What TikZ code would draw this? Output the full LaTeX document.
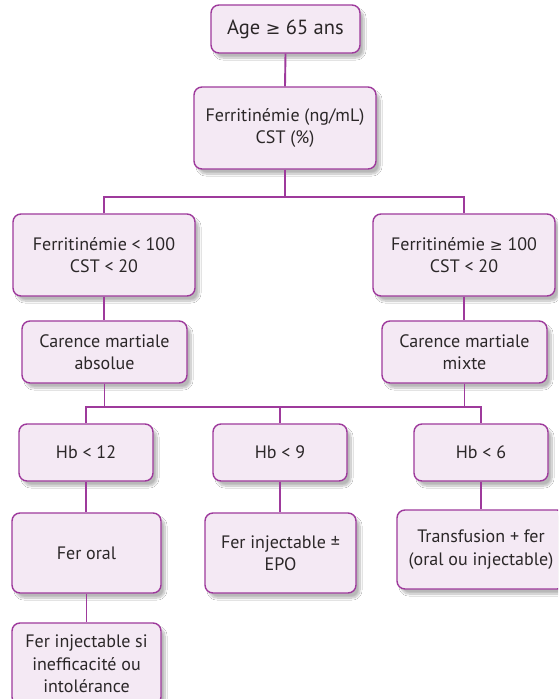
\documentclass[tikz,border=0pt]{standalone}
\usepackage{fontspec}
\setmainfont{PT Sans}
\newfontfamily\symfont{DejaVu Sans}
\usetikzlibrary{shadows.blur}
\definecolor{boxfill}{HTML}{F4E9F4}
\definecolor{boxline}{HTML}{9E3A9C}
\definecolor{txt}{HTML}{2B2728}
\newcommand{\gesym}{{\symfont\fontsize{0.85\dimexpr\csname f@size\endcsname pt\relax}{1em}\selectfont ≥}}
\begin{document}
\begin{tikzpicture}[x=1pt,y=-1pt,
  card/.style={draw=boxline, line width=1.4pt, fill=boxfill, rounded corners=8pt,
    align=center, text=txt, inner sep=0pt,
    font=\fontsize{18}{22.5}\selectfont,
    blur shadow={shadow xshift=4pt, shadow yshift=-5pt, shadow blur steps=12, shadow opacity=28}},
  link/.style={draw=boxline, line width=1.9pt}]
\clip (0,0) rectangle (558,699);
\fill[white] (0,0) rectangle (558,699);

% top of the tree
\node[card, minimum width=149pt, minimum height=48pt, font=\fontsize{20.5}{24}\selectfont] (age) at (285.5,29) {Age \gesym\ 65 ans};
\node[card, minimum width=182pt, minimum height=82pt] (ferr) at (285,128) {Ferritinémie (ng/mL)\\CST (\%)};

% two diagnostic branches
\node[card, minimum width=182pt, minimum height=82pt] (low) at (104,255) {Ferritinémie < 100\\CST < 20};
\node[card, minimum width=182pt, minimum height=82pt] (high) at (464,255) {Ferritinémie \gesym\ 100\\CST < 20};
\node[card, minimum width=165pt, minimum height=62pt] (abs) at (104.5,352) {Carence martiale\\absolue};
\node[card, minimum width=165pt, minimum height=62pt] (mix) at (464.5,352) {Carence martiale\\mixte};

% haemoglobin levels
\node[card, minimum width=134pt, minimum height=57pt] (hbA) at (86,452.5) {Hb < 12};
\node[card, minimum width=134pt, minimum height=57pt] (hbB) at (280,452.5) {Hb < 9};
\node[card, minimum width=134pt, minimum height=57pt] (hbC) at (481,452.5) {Hb < 6};

% treatments
\node[card, minimum width=149pt, minimum height=80pt] (oral) at (86.5,553) {Fer oral};
\node[card, minimum width=151pt, minimum height=80pt] (inj) at (280.5,553) {Fer injectable ±\\EPO};
\node[card, minimum width=168pt, minimum height=79pt] (trans) at (481,549.5) {Transfusion + fer\\(oral ou injectable)};
\node[card, minimum width=149pt, minimum height=82pt] (fail) at (86.5,664) {Fer injectable si\\inefficacité ou\\intolérance};

\coordinate (split) at (285,197);
\coordinate (bar) at (0,407);

% connectors
\draw[link] (age.south) -- (ferr.north);
\draw[link] (ferr.south) -- (split);
\draw[link] (low.north) |- (split) -| (high.north);
\draw[link] (low.south) -- (abs.north -| low.south);
\draw[link] (high.south) -- (mix.north -| high.south);
\draw[link] (hbA.north) |- (hbB.north |- bar) -| (hbC.north);
\draw[link] (hbB.north) -- (hbB.north |- bar);
\draw[link] (abs.south) -- (abs.south |- bar);
\draw[link] (mix.south) -- (mix.south |- bar);
\draw[link] (hbA.south) -- (hbA.south |- oral.north);
\draw[link] (hbB.south) -- (hbB.south |- inj.north);
\draw[link] (hbC.south) -- (hbC.south |- trans.north);
\draw[link] (oral.south) -- (oral.south |- fail.north);
\end{tikzpicture}
\end{document}
